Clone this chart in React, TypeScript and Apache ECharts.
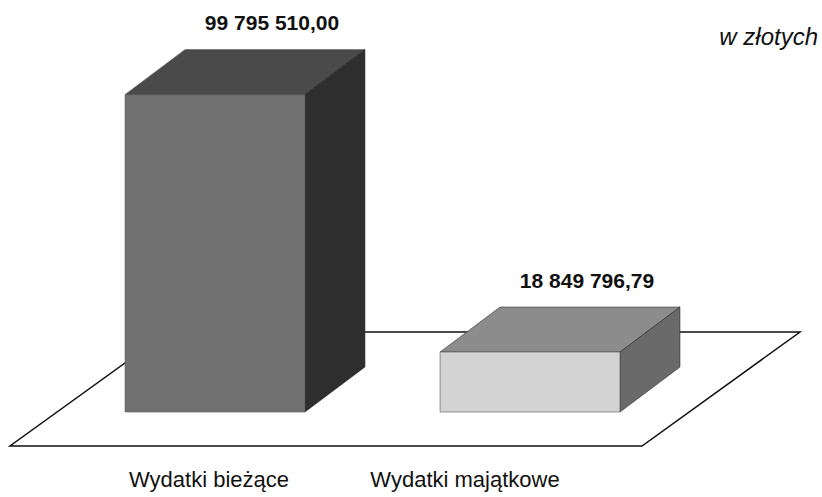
import React, { useEffect, useRef } from "react";
import * as echarts from "echarts";

const categories = ["Wydatki bieżące", "Wydatki majątkowe"];
const values = [99795510.0, 18849796.79];
const valueLabels = ["99 795 510,00", "18 849 796,79"];
const unitLabel = "w złotych";

// layout / style constants
const FRONT = ["#717171", "#d3d3d3"];
const TOP = ["#4a4a4a", "#8c8c8c"];
const SIDE = ["#2e2e2e", "#6a6a6a"];
const DX = 60;
const DY = 45;
const LABEL_SHIFT = [-6, -65];

export default function App() {
  const ref = useRef<HTMLDivElement>(null);
  useEffect(() => {
    if (!ref.current) return;
    const chart = echarts.init(ref.current, null, { renderer: "svg" });
    const data = values.map((v, i) => [i, v]);
    chart.setOption({
      animation: false,
      backgroundColor: "#ffffff",
      grid: { left: 57.5, right: 134.5, top: 94, bottom: 85 },
      xAxis: { type: "category", data: categories, show: false },
      yAxis: { type: "value", min: 0, max: 100000000, show: false },
      graphic: [
        {
          type: "text",
          right: 4,
          top: 24,
          style: {
            text: unitLabel,
            font: "italic 24px 'Liberation Sans', Arial, sans-serif",
            fill: "#111",
          },
        },
      ],
      series: [
        {
          type: "custom",
          data: [[0, 0]],
          encode: { x: 0, y: 1 },
          z: 1,
          renderItem: (params: any) => {
            const cs = params.coordSys;
            const gL = cs.x;
            const gR = cs.x + cs.width;
            const yb = cs.y + cs.height;
            return {
              type: "polygon",
              shape: {
                points: [
                  [gL - 47.5, yb + 34],
                  [gR - 45.5, yb + 34],
                  [gR + 112.5, yb - 80],
                  [gL + 110.5, yb - 80],
                ],
              },
              style: { fill: "#ffffff", stroke: "#111", lineWidth: 1.5 },
            };
          },
        },
        {
          type: "custom",
          data,
          encode: { x: 0, y: 1 },
          z: 2,
          renderItem: (params: any, api: any) => {
            const i = params.dataIndex;
            const cat = api.value(0);
            const val = api.value(1);
            const top = api.coord([cat, val]);
            const base = api.coord([cat, 0]);
            const band = api.size([1, 0])[0];
            const w = band * 0.571;
            const x0 = top[0] - w / 2;
            const x1 = top[0] + w / 2;
            const yt = top[1];
            const yb = base[1];
            return {
              type: "group",
              children: [
                {
                  type: "polygon",
                  shape: { points: [[x0, yt], [x0 + DX, yt - DY], [x1 + DX, yt - DY], [x1, yt]] },
                  style: { fill: TOP[i], stroke: "#333", lineWidth: 0.6 },
                },
                {
                  type: "polygon",
                  shape: { points: [[x1, yt], [x1 + DX, yt - DY], [x1 + DX, yb - DY], [x1, yb]] },
                  style: { fill: SIDE[i], stroke: "#222", lineWidth: 0.6 },
                },
                {
                  type: "rect",
                  shape: { x: x0, y: yt, width: w, height: yb - yt },
                  style: { fill: FRONT[i], stroke: "#555", lineWidth: 0.6 },
                },
                {
                  type: "text",
                  x: top[0] + 57,
                  y: yt - DY - 27,
                  style: {
                    text: valueLabels[i],
                    font: "bold 21px 'Liberation Sans', Arial, sans-serif",
                    fill: "#111",
                    align: "center",
                    verticalAlign: "middle",
                  },
                },
                {
                  type: "text",
                  x: top[0] + LABEL_SHIFT[i],
                  y: 479,
                  style: {
                    text: categories[i],
                    font: "22px 'Liberation Sans', Arial, sans-serif",
                    fill: "#111",
                    align: "center",
                    verticalAlign: "middle",
                  },
                },
              ],
            };
          },
        },
      ],
    });
    return () => chart.dispose();
  }, []);
  return (
    <div
      ref={ref}
      style={{ position: "fixed", left: 0, top: 0, width: 822, height: 497 }}
    />
  );
}
